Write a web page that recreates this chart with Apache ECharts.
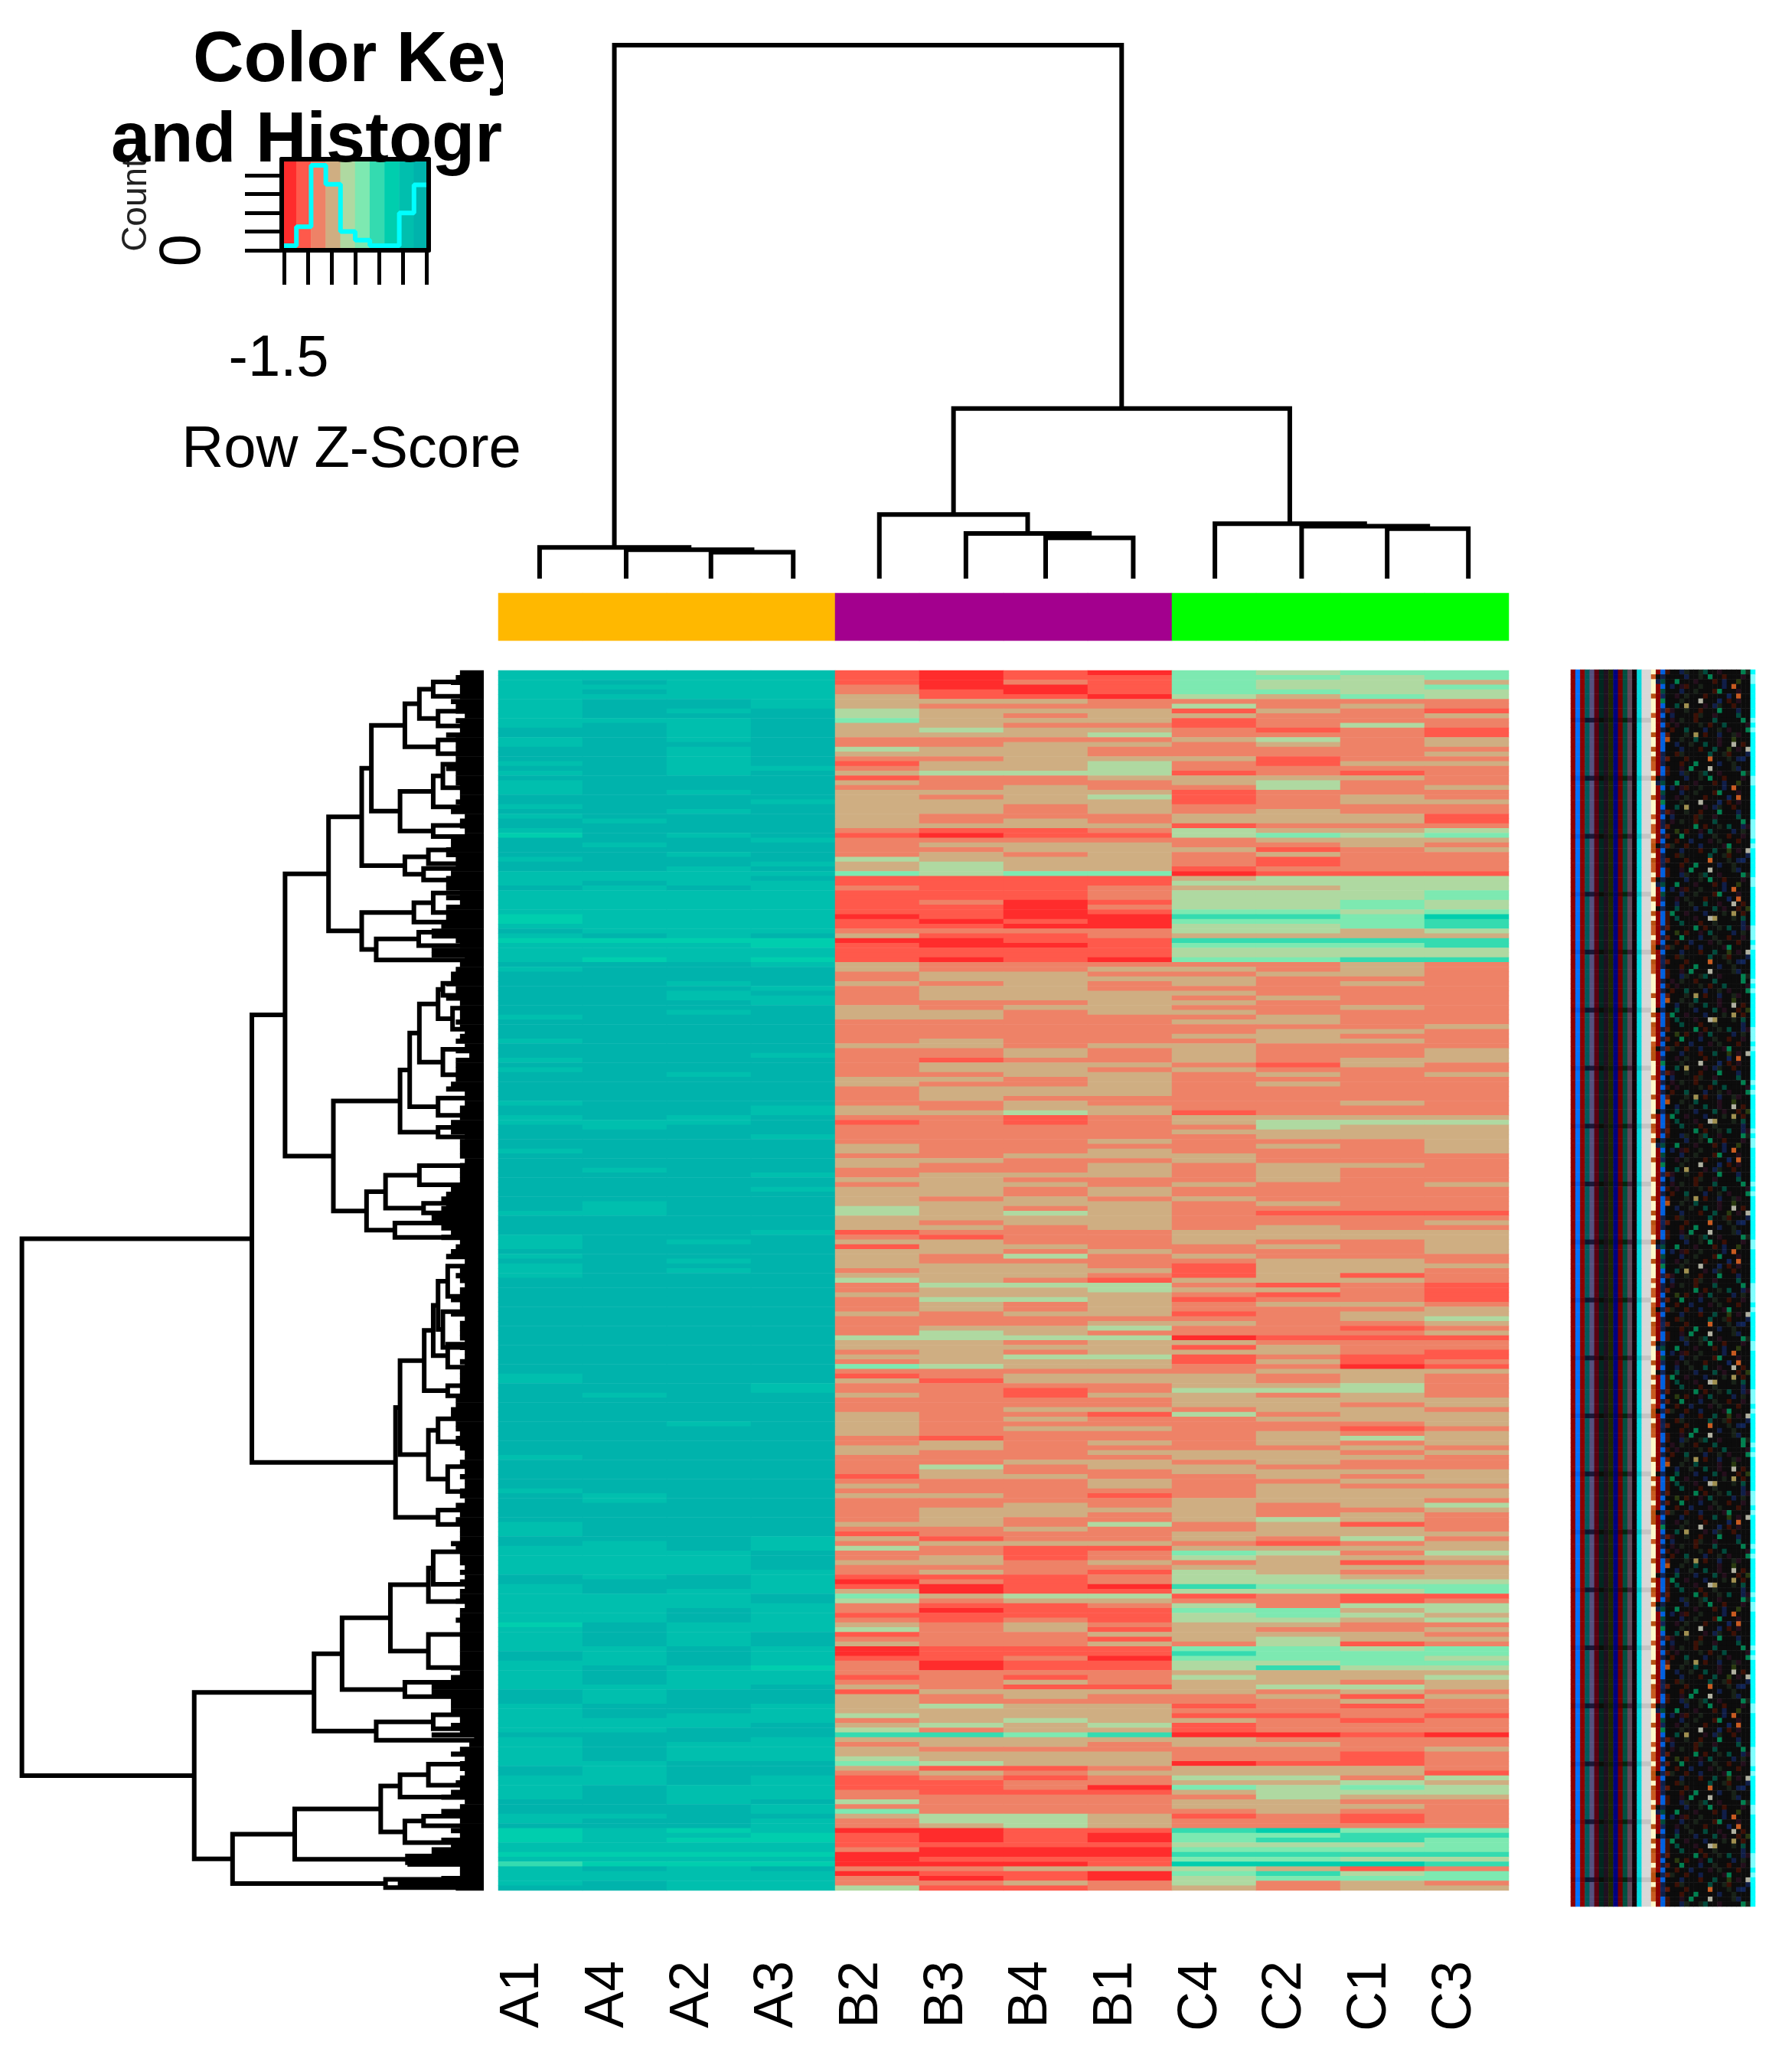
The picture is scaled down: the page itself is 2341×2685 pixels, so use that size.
<!DOCTYPE html>
<html><head><meta charset="utf-8">
<style>html,body{margin:0;padding:0;background:#fff}#c{width:2341px;height:2685px}</style>
<script src="https://cdn.jsdelivr.net/npm/echarts@6/dist/echarts.min.js"></script>
</head><body><div id="c"></div>
<script>
const columns = ['A1','A4','A2','A3','B2','B3','B4','B1','C4','C2','C1','C3'];
const groupOfColumn = ['A','A','A','A','B','B','B','B','C','C','C','C'];
const groupColors = {A:'#FFB800',B:'#A3008E',C:'#00FF00'};
const levelColors = ['#FF2C2C','#FF594B','#EE8267','#CFAE82','#AFD9A1','#7DE9B1','#34DBB0','#00CEAE','#00BFAE','#00B3AC'];

// A columns: [level,count] runs, top to bottom
const runsA1 = [[8,12],[9,2],[8,2],[9,3],[8,1],[9,1],[8,1],[9,1],[8,3],[9,2],[8,1],[9,1],[8,1],[9,2],[8,1],[7,1],[9,4],[8,1],[9,2],[8,3],[9,1],[8,5],[7,2],[8,1],[9,1],[8,1],[7,1],[8,4],[9,1],[8,1],[9,9],[8,1],[9,4],[8,1],[9,3],[8,1],[9,1],[8,1],[9,6],[8,1],[9,2],[8,2],[9,5],[8,1],[9,12],[8,1],[9,4],[8,3],[9,1],[8,1],[9,1],[8,3],
 [9,20],[8,2],[9,15],[8,1],[9,6],[8,1],[9,6],[8,3],[9,2],[8,6],[9,2],[8,8],[7,1],[8,5],[9,2],[8,6],[9,3],[8,6],[9,1],[8,6],[9,2],[8,5],
 [9,3],[8,2],[9,1],[7,3],[8,2],[7,1],[8,1],[6,1],[8,4],[9,2]];
const runsA4 = [[8,2],[9,1],[8,1],[9,1],[8,1],[9,4],[8,1],[9,20],[8,1],[9,4],[8,1],[9,5],[8,2],[9,1],[8,10],[9,1],[7,1],[8,3],[7,1],[9,33],[8,2],[9,8],[8,1],[9,6],[8,3],[9,13],
 [9,24],[8,1],[9,20],[8,2],[9,8],[8,8],[9,3],[8,6],[9,5],[8,4],[9,4],[8,4],[9,3],[8,3],[9,6],[8,5],[9,3],
 [9,3],[8,1],[9,2],[8,5],[7,1],[8,1],[7,1],[9,1],[8,2],[9,2]];
const runsA2 = [[8,6],[9,2],[8,1],[9,1],[8,5],[9,1],[8,6],[9,3],[8,1],[9,3],[8,1],[9,4],[8,1],[9,3],[8,1],[9,2],[8,4],[9,1],[8,10],[7,1],[8,4],[9,4],[8,1],[9,1],[8,2],[9,2],[8,1],[9,12],[8,1],[9,8],[8,2],[9,24],[8,1],[9,3],[8,1],[9,1],[8,1],[9,1],
 [9,30],[8,1],[9,26],[8,5],[9,3],[8,4],[9,3],[8,5],[9,4],[8,5],[9,5],[8,3],[9,3],[8,4],[9,5],[8,3],
 [8,1],[9,5],[7,1],[8,1],[7,1],[8,2],[7,1],[8,1],[7,1],[8,5]];
const runsA3 = [[8,8],[9,12],[8,1],[9,6],[8,1],[9,7],[8,1],[9,4],[8,1],[9,1],[8,1],[9,1],[8,11],[9,1],[7,2],[8,2],[7,1],[8,1],[9,4],[8,1],[9,1],[8,2],[9,10],[8,1],[9,10],[8,2],[9,4],[8,1],[9,7],[8,1],[9,2],[8,1],[9,8],[8,1],[9,9],
 [9,22],[8,2],[9,30],[8,3],[9,4],[8,5],[9,2],[8,6],[9,3],[8,4],[7,1],[8,3],[9,4],[8,4],[9,3],[8,5],[9,3],[8,5],
 [9,1],[8,2],[9,1],[8,3],[7,2],[8,2],[7,1],[8,1],[7,1],[9,1],[8,4]];

// B2 B3 B4 B1 C4 C2 C1 C3, one string per heatmap row, top to bottom
const rowLevelsBC = (
'10105455 10115545 10215443 20015445 21015544 31104354 33322222 32224232 43331321 43233223 '+
'53331222 33221242 34332121 33342221 22223423 22332323 43322222 33322223 22333122 13342133 '+
'23342222 34441212 12233332 32223422 22322423 33331222 32341232 33331233 33232222 33232322 '+
'32223331 32323331 33331222 21124334 10114545 22222333 23332232 22333123 23232322 43332122 '+
'34332122 34331222 54550111 11113444 11114444 21123344 11124445 11124445 12014454 11024454 '+
'11015545 01006657 10105556 11004456 22224434 31123333 00116666 10015556 11114444 11114444 '+
'10105566 32222232 32233232 23322332 23333222 32323232 23322222 23333222 23332322 22233222 '+
'32332232 33233222 33222322 22223322 22222223 22222332 22223322 23222332 33233222 22323223 '+
'22323223 21223233 23332132 23323222 22332323 33232222 32232322 23332222 23332222 23222222 '+
'22322232 32332222 33431222 22123333 12123444 22222433 22223333 22222333 22232223 32222323 '+
'32232223 22333222 33223222 32232332 22232322 23332322 33222322 23323223 33232222 33232222 '+
'32323222 33332322 43232222 43432111 33332222 32332223 33232322 12223333 21223333 33223223 '+
'13322323 33232223 32423222 32222332 33321333 23331332 33321312 43213332 24442121 23343321 '+
'33332121 24431221 23232332 23232223 32331233 22222234 22233223 23342212 24322223 44440111 '+
'33233222 33331322 23233321 33441211 23331312 54332201 22222333 12333232 31333232 22223342 '+
'22124442 32133232 22223333 22223323 22332332 32214233 32322333 32222223 32332212 32222323 '+
'21222343 23232323 33222232 32233323 22223332 22332322 24233222 23223333 13322323 22232233 '+
'32232322 22222333 33212333 22223332 22323234 23333223 23323232 23223432 33242312 22322332 '+
'12223333 31223242 23332123 42113333 22125424 23124333 33232312 22223333 23214323 11124433 '+
'02124444 10106555 30114445 53441211 42332212 21124244 20115534 11114543 21214434 32323322 '+
'42313223 12233332 22213433 32232412 01115545 01116555 11205554 20114455 20114644 22223333 '+
'12124334 22323323 32113443 13333232 32322313 32222232 34331212 33332222 43331121 23433212 '+
'34341222 42331222 66560010 33333222 23323322 32222223 33332212 43332212 54330112 31123332 '+
'23233331 12124424 11223343 11205454 21113444 22222433 42223322 22223332 52222322 34431212 '+
'24432212 23432222 00116755 10105566 10105665 11114445 20005555 00006666 01115544 00017776 '+
'22334312 01105645 20104555 22324232 41123233').split(' ');

// top dendrogram: leaf positions, hclust-style merges (negative = leaf index -1, positive = earlier merge +1)
const topLeafPositions=[0.49,1.518,2.525,3.502,4.525,5.553,6.5,7.54,8.51,9.54,10.556,11.52];
const topMerges = [[-3,-4,66],[-2,1,72],[-1,2,78],[-7,-8,102],[-6,4,113],[-5,5,160],[-11,-12,125],[-10,7,131],[-9,8,137],[6,9,425],[3,10,1333]];

// left dendrogram: node = [position, kid, kid], terminal = [position, row]
const T3=[1302,[1345,[1420,2.4],[1428,5.4]],[1360,[1415,8.5],[1428,11.6]]];
const T5=[1257,T3,[1360,[1390,14.5],[1415,17.4]]];
const T7=[1345,[1375,[1415,19.6],[1428,24.5]],[1405,28.5]];
const T9=[1242,T7,[1345,[1390,32.4],[1443,34.7]]];
const T13=[1257,[1330,[1385,37.5],[1415,40.4]],[1315,[1400,41.4],[1385,43.8]]];
const T14=[1123,[1153,T5,T9],T13];
const T16=[1285,[1345,[1375,46.5],[1385,50.6]],[1385,52.6]];
const T18=[1168,[1300,[1370,54.7],[1428,57.5]],[1443,60.5]];
const UAA=[1020,T14,[1123,T16,T18]];
const B3=[1360,[1375,[1400,65.4],[1415,67.9]],[1405,[1420,70.6],[1443,75]]];
const B5=[1302,B3,[1375,[1390,79.2],[1415,84.5]]];
const B7=[1272,B5,[1360,[1405,89.4],[1428,93]]];
const B9=[1242,B7,[1360,[1390,95.5],[1443,97.5]]];
const B12=[1197,[1302,[1375,103.5],[1405,107.5]],[1315,[1385,111.4],[1415,113.4]]];
const UAB=[1035,B9,[1138,B12,[1226,[1415,115.5],[1370,118.5]]]];
const C5=[1345,[1360,[1390,[1415,124.5],[1430,130.8]],[1375,[1415,134],[1415,141.5]]],[1390,[1415,140.8],[1443,145.6]]];
const C7=[1317,C5,[1390,[1428,149.5],[1415,151.6]]];
const C10=[1330,[1360,[1400,156.4],[1390,161.2]],[1390,[1430,166.4],[1440,171.6]]];
const UB=[1228,[1242,C7,C10],[1360,[1405,175.5],[1428,178.5]]];
const D4=[1212,[1330,[1345,[1360,184.2],[1385,191]],[1420,194.6]],[1330,[1375,201.5],[1385,208.4]]];
const D6=[1062,D4,[1257,[1340,211.5],[1400,214.5]]];
const D9=[975,D6,[1168,[1345,[1400,218.3],[1428,221.2]],[1472,223.6]]];
const E5=[1182,[1242,[1330,[1375,228.6],[1390,233]],[1370,235.5]],[1257,[1315,[1375,239.5],[1428,241.5]],[1295,245]]];
const E9=[722,[915,E5,[1265,[1340,247.8],[1430,249.2]]],[1197,[1235,252.7],[1415,254.4]]];
const rowTree=[68,[782,[885,UAA,UAB],UB],[603,D9,E9]];

// where the solid leaf stems begin on each row
const leafFringe=[1428,1415,1400,1428,1428,1428,1400,1415,1415,1443,1415,1428,1428,1385,1415,1415,1415,1415,1415,1415,1385,1415,1415,1415,1428,1428,1428,1415,1428,1400,1443,1428,1428,1443,1443,1400,1400,1385,1385,1415,1415,1400,1400,1385,1385,1385,1428,1385,1428,1385,1385,1385,1385,1370,1340,1340,1415,1428,1340,1340,1443,1428,1415,1400,1400,1385,1415,1415,1385,1428,1428,1428,1428,1415,1428,1443,1428,1415,1443,1415,1457,1415,1415,1415,1415,1415,1400,1385,1443,1443,1443,1428,1428,1428,1400,1428,1400,1443,1428,1428,1428,1428,1443,1428,1428,1428,1428,1428,1400,1385,1370,1385,1370,1340,1340,1415,1370,1400,1370,1428,1415,1400,1385,1443,1443,1428,1415,1428,1443,1428,1428,1400,1428,1428,1400,1443,1428,1428,1428,1428,1443,1428,1443,1443,1428,1443,1428,1428,1428,1428,1428,1428,1415,1415,1400,1400,1415,1415,1415,1428,1415,1415,1428,1443,1443,1428,1443,1443,1428,1443,1443,1428,1428,1443,1415,1443,1428,1415,1428,1428,1428,1428,1400,1415,1428,1428,1428,1443,1428,1443,1428,1443,1428,1428,1415,1443,1428,1428,1415,1428,1428,1428,1428,1428,1428,1428,1428,1428,1400,1428,1400,1400,1340,1340,1400,1400,1400,1400,1428,1428,1400,1428,1340,1472,1457,1428,1400,1443,1428,1428,1443,1428,1415,1428,1400,1370,1443,1428,1370,1428,1428,1428,1400,1428,1370,1400,1340,1340,1265,1265,1428,1428,1370,1235,1415];

// colour key
const histEdges=[-1.55,-1.24,-0.93,-0.62,-0.31,0,0.31,0.62,0.93,1.24,1.6];
const histCounts=[0.25,1.26,4.54,3.53,1.0,0.54,0.25,0.25,2.0,3.5,3.5];
const keyTicksX=[-1.5,-1,-0.5,0,0.5,1,1.5];
const keyTicksY=[0,1,2,3,4];

// overlapped row labels at the right: vertical stripes and pixel noise
const stripeColors=['#8C0000','#0070FF','#8C0000','#005A5A','#55507F','#5A0010','#002820','#201020','#1C2800','#000080','#700000','#005040','#604858','#100008','#00D8DC','#D8D8D8','#D8D8D8'];
const stripeDim=['#7A0000','#0060F0','#7A0000','#0A1830','#1A1838','#400010','#081008','#181018','#102000','#000070','#500000','#002810','#402038','#100008','#00C0C4','#C4C4C4','#C4C4C4'];
const noiseColors={a:'#FFF8C8',b:'#B85010',c:'#8C0000',d:'#0060E0',e:'#101E48',f:'#5A1808',g:'#0C0C0C',h:'#182218',i:'#240E1C',j:'#2A3A10',k:'#008050',l:'#A09050',m:'#C85A20',n:'#00FFFF',o:'#80FFFF',p:'#102458',q:'#004A3C',r:'#3C1006',s:'#B0B0A0'};
const noiseRows=[
'acdrggehgghqggiggggkhn','bcdfggghglgrggegghiggn','aceggrhgggggqgghrgggen','mcdgeggggrhggiggggqggn','acefggkgggegghggrggigo','bcpggighgggrggggpgmggn',
'acdrgqgggiggslggghgqgn','mgeggggegghgkggrgggigo','acdbgghggqggggiggjgggn','bcpfgggrggggmggghgepgn','acegighggrgggqgggggkgo','mcdggrggegggighgggrggn',
'ackggghgggsgggpgrgiggn','bcdrggqgggrgghgggggegn','aeqggkgggigggrgeggjggo','acdggegghggqggiggsgrgn','mcegggrggkggggegghgggn','acdrgigggghgrggqggggin',
'bgpfhggrggeggggikggggo','acdggqglgggigehggrgggn','mcefgggggkgrgghgqggeio','acdgegirgghggggegmgggn','agpggqgggegggqgiggrgjn','mcdrggigkgggsggggheggn',
'acegrggqgggegghgigggko','bcdgggegggrggqggjgigsn','acpfigghggrgggkgggeggn','mcdggjgrggigqggggeghgo','acqgggegghgggrkgggiggn','bcdrkggigggeggghglgrgn'];

const ROWS=rowLevelsBC.length, TREE_END=1502;
const palette=[]; const ci=c=>{let i=palette.indexOf(c); if(i<0){palette.push(c); i=palette.length-1;} return i;};
levelColors.forEach(ci);
const expand=r=>{const o=[]; r.forEach(([l,n])=>{for(let i=0;i<n;i++)o.push(l);}); return o;};
const aCols=[runsA1,runsA4,runsA2,runsA3].map(expand);
const heatData=[];
for(let r=0;r<ROWS;r++){
  for(let c=0;c<4;c++) heatData.push([c,r,aCols[c][r]===undefined?9:aCols[c][r]]);
  for(let c=0;c<8;c++) heatData.push([c+4,r,+rowLevelsBC[r][c]]);
}
const sideData=groupOfColumn.map((g,i)=>[i,0,ci(groupColors[g])]);
const keyData=levelColors.map((c,i)=>[i,0,i]);
// stripes
const SR=256, SC=39, stripeData=[];
for(let r=0;r<SR;r++){
  const row=noiseRows[(r*7+(r>>4)*3)%noiseRows.length];
  const dim=(r%12)===10;
  for(let c=0;c<17;c++) stripeData.push([c,r,ci((dim?stripeDim:stripeColors)[c])]);
  for(let c=17;c<SC;c++) stripeData.push([c,r,ci(noiseColors[row[c-17]||'g'])]);
}
// dendrogram geometry from the merges
const topLines=[]; const topNodes=[];
const topPos=id=>id<0?[topLeafPositions[-id-1],0]:topNodes[id-1];
topMerges.forEach(([a,b,h])=>{
  const [xa,ha]=topPos(a),[xb,hb]=topPos(b);
  topLines.push({coords:[[xa,ha],[xa,h],[xb,h],[xb,hb]]});
  topNodes.push([(xa+xb)/2,h]);
});
const leftLines=[];
function walk(n){
  if(n.length===2){ return [n[0],n[1],true]; }
  const a=walk(n[1]), b=walk(n[2]);
  const pts=[];
  if(a[2]) pts.push([TREE_END,a[1]]);
  pts.push([a[0],a[1]]);
  pts.push([n[0],a[1]],[n[0],b[1]],[b[0],b[1]]);
  if(b[2]) pts.push([TREE_END,b[1]]);
  leftLines.push({coords:pts});
  return [n[0],(a[1]+b[1])/2,false];
}
walk(rowTree);
const fringeLines=leafFringe.map((f,r)=>({coords:[[f,r+0.5],[TREE_END,r+0.5]]}));

const HL=651,HW=1320,HT=876,HH=1594;
const hidden=(gridIndex,extra)=>Object.assign({gridIndex,show:false},extra);
const FONT='"Liberation Sans",Arial,sans-serif';
const option={
 animation:false,backgroundColor:'#fff',
 textStyle:{fontFamily:FONT},
 title:[
  {text:'Color Key',left:247,top:30,textStyle:{fontSize:92,fontWeight:'bold',color:'#000',fontFamily:FONT}},
  {text:'and Histogram',left:140,top:135,textStyle:{fontSize:92,fontWeight:'bold',color:'#000',fontFamily:FONT}}
 ],
 graphic:[{type:'rect',z:100,shape:{x:657,y:0,width:135,height:240},style:{fill:'#fff'},silent:true}],
 grid:[
  {left:HL,top:HT,width:HW,height:HH},
  {left:HL,top:775,width:HW,height:62},
  {left:HL,top:59,width:HW,height:697},
  {left:0,top:HT,width:632,height:HH},
  {left:2052,top:875,width:241,height:1616},
  {left:368,top:208,width:192,height:119},
  {left:628,top:HT,width:1328,height:HH}
 ],
 xAxis:[
  hidden(0,{type:'category',data:columns}),
  hidden(1,{type:'category',data:columns}),
  hidden(2,{type:'value',min:0,max:12}),
  hidden(3,{type:'value',min:0,max:TREE_END}),
  hidden(4,{type:'category',data:Array.from({length:SC},(_,i)=>i)}),
  {gridIndex:5,type:'category',data:levelColors.map((_,i)=>i),position:'top',z:6,axisLine:{show:true,onZero:false,lineStyle:{color:'#000',width:6}},axisTick:{show:false},axisLabel:{show:false},splitLine:{show:false}},
  {gridIndex:5,type:'value',position:'bottom',min:-1.55,max:1.55,z:6,splitLine:{show:false},
   axisLine:{show:true,onZero:false,lineStyle:{color:'#000',width:6}},
   axisTick:{show:true,length:45,customValues:keyTicksX,lineStyle:{color:'#000',width:5}},
   axisLabel:{show:true,customValues:[-1.5],formatter:v=>String(v),fontSize:76,color:'#000',margin:105,padding:[0,14,0,0],fontFamily:FONT},
   name:'Row Z-Score',nameLocation:'middle',nameGap:224,nameTextStyle:{fontSize:76,color:'#000',fontFamily:FONT,padding:[0,10,0,0]}},
  {gridIndex:6,type:'category',data:columns,position:'bottom',axisLine:{show:false},axisTick:{show:false},splitLine:{show:false},
   axisLabel:{interval:0,rotate:90,fontSize:72,color:'#000',margin:92,fontFamily:FONT}}
 ],
 yAxis:[
  hidden(0,{type:'category',inverse:true,data:Array.from({length:ROWS},(_,i)=>i)}),
  hidden(1,{type:'category',data:['side']}),
  hidden(2,{type:'value',min:0,max:1333}),
  hidden(3,{type:'value',min:0,max:ROWS,inverse:true}),
  hidden(4,{type:'category',inverse:true,data:Array.from({length:SR},(_,i)=>i)}),
  {gridIndex:5,type:'category',data:['key'],position:'right',z:6,axisLine:{show:true,onZero:false,lineStyle:{color:'#000',width:6}},axisTick:{show:false},axisLabel:{show:false},splitLine:{show:false}},
  {gridIndex:5,type:'value',position:'left',min:0,max:4.87,z:6,splitLine:{show:false},
   axisLine:{show:true,onZero:false,lineStyle:{color:'#000',width:6}},
   axisTick:{show:true,length:48,customValues:keyTicksY,lineStyle:{color:'#000',width:5}},
   axisLabel:{show:true,customValues:[0],formatter:v=>String(v),rotate:90,fontSize:76,color:'#000',margin:90,fontFamily:FONT},
   name:'Count',nameLocation:'middle',nameRotate:90,nameGap:166,nameTextStyle:{fontSize:46,color:'#222',fontFamily:FONT}},
  hidden(6,{type:'value'})
 ],
 visualMap:{show:false,type:'piecewise',seriesIndex:[0,1,2,3],dimension:2,pieces:palette.map((c,i)=>({value:i,color:c}))},
 series:[
  {type:'heatmap',xAxisIndex:0,yAxisIndex:0,data:heatData,progressive:0,silent:true},
  {type:'heatmap',xAxisIndex:1,yAxisIndex:1,data:sideData,progressive:0,silent:true},
  {type:'heatmap',xAxisIndex:5,yAxisIndex:5,data:keyData,progressive:0,silent:true},
  {type:'heatmap',xAxisIndex:4,yAxisIndex:4,data:stripeData,progressive:0,silent:true},
  {type:'line',xAxisIndex:6,yAxisIndex:6,step:'end',showSymbol:false,z:4,silent:true,lineStyle:{color:'#00FFFF',width:6},
   data:histEdges.map((e,i)=>[e,histCounts[i]])},
  {type:'lines',coordinateSystem:'cartesian2d',xAxisIndex:2,yAxisIndex:2,polyline:true,silent:true,lineStyle:{color:'#000',width:6,opacity:1},data:topLines},
  {type:'lines',coordinateSystem:'cartesian2d',xAxisIndex:3,yAxisIndex:3,polyline:true,silent:true,lineStyle:{color:'#000',width:6.8,opacity:1},data:fringeLines},
  {type:'lines',coordinateSystem:'cartesian2d',xAxisIndex:3,yAxisIndex:3,polyline:true,silent:true,lineStyle:{color:'#000',width:6,opacity:1},data:leftLines}
 ]
};
const chart=echarts.init(document.getElementById('c'),null,{renderer:'canvas',width:2341,height:2685});
chart.setOption(option);
</script>
</body></html>
